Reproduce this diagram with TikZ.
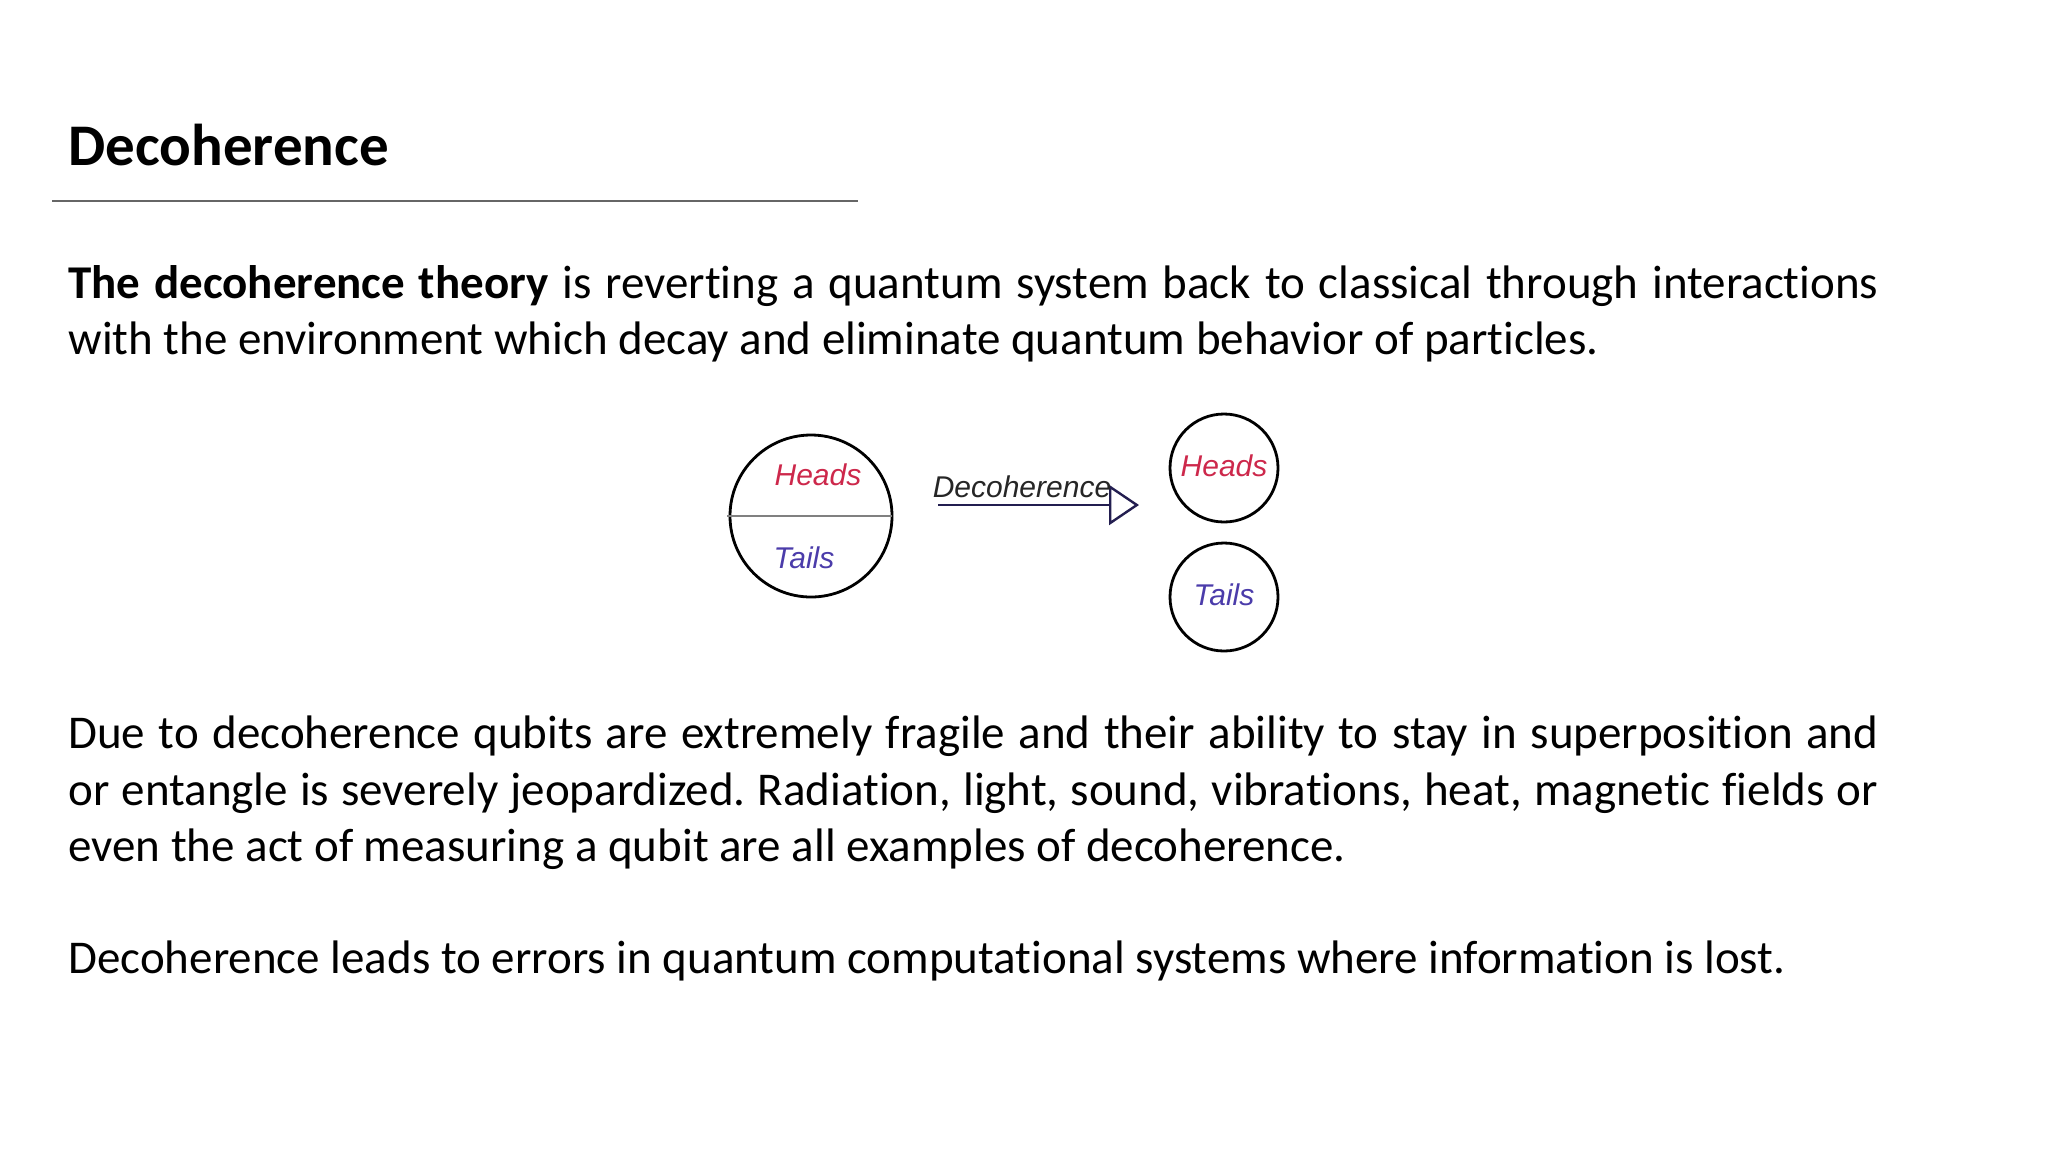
\documentclass[tikz,border=0pt]{standalone}
\usepackage{fontspec}
\setmainfont{Carlito}[Ligatures=NoCommon]
\newfontfamily\diagfont{Liberation Sans}
\usetikzlibrary{arrows.meta}
\frenchspacing
\definecolor{headred}{RGB}{205,40,75}
\definecolor{tailblue}{RGB}{75,60,170}
\definecolor{arrownavy}{RGB}{35,30,80}
\tikzset{
  body/.style={anchor=base west, inner sep=0pt, font=\fontsize{23.5}{28}\selectfont},
  coin/.style={draw, circle, line width=1.4pt, inner sep=0pt},
  lbl/.style={font=\diagfont\itshape\fontsize{15}{16}\selectfont, inner sep=0pt}
}
\newcommand{\jline}[1]{\makebox[905pt][s]{#1}}
\begin{document}
\begin{tikzpicture}[x=0.5pt,y=-0.5pt]
\useasboundingbox (0,0) rectangle (2048,1152);
\fill[white] (0,0) rectangle (2048,1152);
% title
\node[anchor=base west, inner sep=0pt, font=\bfseries\fontsize{29.5}{34}\selectfont] (title) at (68,165) {Decoherence};
\draw[gray!80!black, line width=0.6pt] (52,201) -- (858,201);
% paragraph 1
\node[body] (p1a) at (68,298) {\jline{\textbf{The decoherence theory} is reverting a quantum system back to classical through interactions}};
\node[body] (p1b) at (68,354) {with the environment which decay and eliminate quantum behavior of particles.};
% diagram
\node[coin, minimum size=81pt] (big) at (811,516) {};
\draw[gray, line width=1.2pt] (727,516) -- (892,516);
\node[lbl, text=headred] (h1) at (818,475) {Heads};
\node[lbl, text=tailblue] (t1) at (804,558) {Tails};
\node[coin, minimum size=54pt] (hc) at (1224,468) {};
\node[lbl, text=headred] (h2) at (1224,466) {Heads};
\node[coin, minimum size=54pt] (tc) at (1224,597) {};
\node[lbl, text=tailblue] (t2) at (1224,595) {Tails};
\coordinate (as) at (938,505);
\coordinate (ae) at (1139,505);
\draw[arrownavy, line width=1.2pt, -{Triangle[open, length=15pt, width=20pt, line width=1.2pt]}] (as) -- (ae);
\node[lbl, text=black!85] (dec) at (1022,487) {Decoherence};
% paragraph 2
\node[body] (p2a) at (68,748) {\jline{Due to decoherence qubits are extremely fragile and their ability to stay in superposition and}};
\node[body] (p2b) at (68,805) {\jline{or entangle is severely jeopardized. Radiation, light, sound, vibrations, heat, magnetic fields or}};
\node[body] (p2c) at (68,861) {even the act of measuring a qubit are all examples of decoherence.};
% paragraph 3
\node[body] (p3) at (68,973) {Decoherence leads to errors in quantum computational systems where information is lost.};
\end{tikzpicture}
\end{document}
